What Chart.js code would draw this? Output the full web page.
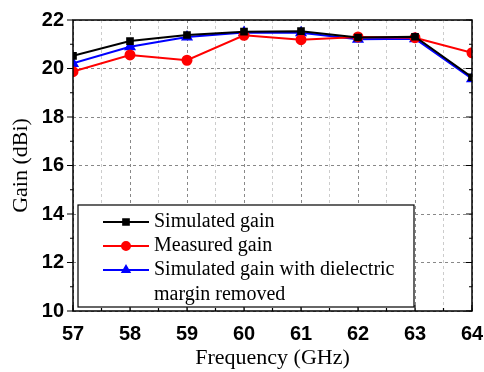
<!DOCTYPE html>
<html>
<head>
<meta charset="utf-8">
<script src="https://cdn.jsdelivr.net/npm/chart.js@4.4.0/dist/chart.umd.min.js"></script>
<style>
  html, body { margin: 0; padding: 0; background: #fff; }
  #wrap { width: 484px; height: 372px; }
</style>
</head>
<body>
<div id="wrap"><canvas id="gainChart" width="484" height="372"></canvas></div>
<script>
// frequency points (GHz)
var freqs = [57, 58, 59, 60, 61, 62, 63, 64];
// gain values (dBi)
var simGain = [20.52, 21.13, 21.38, 21.52, 21.54, 21.28, 21.31, 19.64];
var measGain = [19.87, 20.56, 20.34, 21.37, 21.19, 21.30, 21.27, 20.65];
var simNoMargin = [20.21, 20.90, 21.30, 21.48, 21.47, 21.21, 21.23, 19.58];
var seriesNames = ["Simulated gain", "Measured gain", "Simulated gain with dielectric\nmargin removed"];
var yTicks = [10, 12, 14, 16, 18, 20, 22];

function toPoints(vals) {
  return freqs.map(function (f, i) { return { x: f, y: vals[i] }; });
}

var serif = "'Liberation Serif', 'Times New Roman', serif";
var sans = "'Liberation Sans', Arial, sans-serif";

// frame, tick marks and legend box
var framePlugin = {
  id: "frame",
  afterDraw: function (chart) {
    var c = chart.ctx, a = chart.chartArea;
    var xs = chart.scales.x, ys = chart.scales.y;
    c.save();
    c.strokeStyle = "#000";
    c.lineWidth = 1.5;
    c.strokeRect(a.left, a.top, a.right - a.left, a.bottom - a.top);
    c.lineWidth = 1.2;
    c.beginPath();
    for (var v = 10; v <= 22; v += 1) {
      var py = ys.getPixelForValue(v);
      var len = v % 2 === 0 ? 6 : 3;
      c.moveTo(a.left - len, py); c.lineTo(a.left, py);
      c.moveTo(a.right, py); c.lineTo(a.right - len, py);
    }
    for (var f = 57; f <= 64; f += 0.5) {
      var px = xs.getPixelForValue(f);
      var l2 = f % 1 === 0 ? 6 : 3;
      c.moveTo(px, a.bottom); c.lineTo(px, a.bottom - l2);
    }
    c.stroke();

    // legend
    var bx = 78, by = 205, bw = 336, bh = 102;
    c.fillStyle = "#fff";
    c.fillRect(bx, by, bw, bh);
    c.lineWidth = 1.2;
    c.strokeRect(bx, by, bw, bh);
    var rowY = [222, 246, 270];
    c.font = "20px " + serif;
    c.textBaseline = "middle";
    chart.data.datasets.forEach(function (ds, i) {
      var y = rowY[i];
      c.strokeStyle = ds.borderColor;
      c.lineWidth = 2;
      c.beginPath(); c.moveTo(103, y); c.lineTo(149, y); c.stroke();
      Chart.helpers.drawPoint(c, { pointStyle: ds.pointStyle, radius: 4, borderWidth: 1 }, 126, y);
      c.fillStyle = ds.borderColor;
      c.fill();
      c.fillStyle = "#000";
      var lines = seriesNames[i].split("\n");
      lines.forEach(function (t, k) { c.fillText(t, 154, y + k * 25); });
    });
    c.restore();
  }
};

new Chart(document.getElementById("gainChart"), {
  type: "line",
  data: {
    datasets: [
      { label: seriesNames[0], data: toPoints(simGain), borderColor: "#000", backgroundColor: "#000",
        pointStyle: "rect", pointRadius: 4, borderWidth: 2 },
      { label: seriesNames[1], data: toPoints(measGain), borderColor: "#ff0000", backgroundColor: "#ff0000",
        pointStyle: "circle", pointRadius: 4.5, borderWidth: 2 },
      { label: seriesNames[2], data: toPoints(simNoMargin), borderColor: "#0000ff", backgroundColor: "#0000ff",
        pointStyle: "triangle", pointRadius: 5, borderWidth: 2 }
    ]
  },
  options: {
    responsive: false,
    animation: false,
    layout: { padding: { top: 20, right: 0, left: 0, bottom: 0 } },
    plugins: { legend: { display: false }, tooltip: { enabled: false } },
    scales: {
      x: {
        type: "linear", min: 57, max: 64,
        afterFit: function (s) { s.height = 61; s.paddingLeft = 0; s.paddingRight = 12; },
        ticks: {
          stepSize: 0.5, padding: 11, color: "#000",
          font: { family: sans, size: 20, weight: "bold" },
          maxRotation: 0, autoSkip: false,
          callback: function (v) { return v % 1 === 0 ? String(v) : ""; }
        },
        grid: {
          drawTicks: false,
          color: function (ctx) { return ctx.tick && ctx.tick.value % 1 === 0 ? "#888" : "#ccc"; },
          lineWidth: 1
        },
        border: { display: false, dash: [3, 3] },
        title: { display: true, text: "Frequency (GHz)", color: "#000",
          font: { family: serif, size: 22 }, padding: { top: 0, bottom: 1 } }
      },
      y: {
        min: 10, max: 22,
        afterFit: function (s) { s.width = 73; s.paddingTop = 0; s.paddingBottom = 0; },
        afterBuildTicks: function (s) {
          var t = [];
          for (var v = 10; v <= 22; v++) t.push({ value: v });
          s.ticks = t;
        },
        ticks: {
          padding: 9, color: "#000",
          font: { family: sans, size: 20, weight: "bold" },
          callback: function (v) { return yTicks.indexOf(v) >= 0 ? String(v) : ""; }
        },
        grid: {
          drawTicks: false,
          color: function (ctx) { return ctx.tick && ctx.tick.value % 2 === 0 ? "#888" : "#ccc"; },
          lineWidth: 1
        },
        border: { display: false, dash: [3, 3] },
        title: { display: true, text: "Gain (dBi)", color: "#000",
          font: { family: serif, size: 22 }, padding: { top: 8, bottom: 0 } }
      }
    }
  },
  plugins: [framePlugin]
});
</script>
</body>
</html>
